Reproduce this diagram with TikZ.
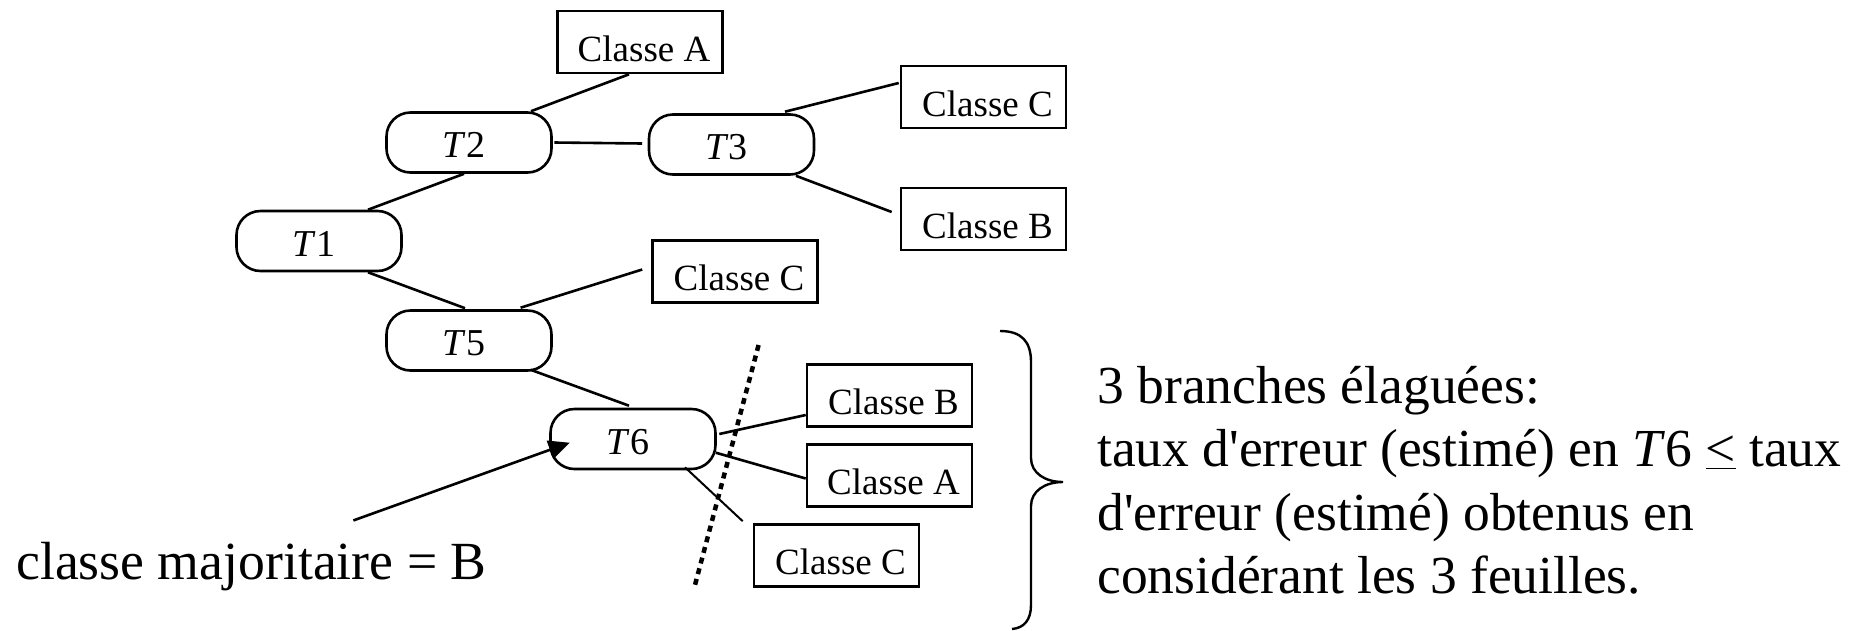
\documentclass[tikz,border=0pt]{standalone}
\usepackage{fontspec}
\setmainfont{Liberation Serif}
\usetikzlibrary{arrows.meta,calc}

\begin{document}
\begin{tikzpicture}[x=1pt,y=-1pt,
  line width=2.6pt,
  test/.style={draw, rounded corners=24pt, minimum width=165pt,
    inner xsep=0pt, inner ysep=0pt, text height=45pt, text depth=15pt,
    font=\fontsize{38}{44}\selectfont,
    execute at end node={\hspace*{10pt}}},
  leaf/.style={draw, minimum width=165pt, inner xsep=0pt, inner ysep=0pt,
    text height=50pt, text depth=12pt,
    font=\fontsize{37}{44}\selectfont,
    execute at begin node={\hspace*{8pt}}},
  branch/.style={line width=2.6pt},
]
\useasboundingbox (0,0) rectangle (1856,630);

% internal tests of the tree
\node[test] (T1) at (319,241)   {\textit{T}1};
\node[test] (T2) at (469,142.5) {\textit{T}2};
\node[test] (T3) at (731.5,144.5) {\textit{T}3};
\node[test] (T5) at (469,340.5) {\textit{T}5};
\node[test] (T6) at (633,439)   {\textit{T}6};

% leaves
\node[leaf] (CA1) at (640,42)      {Classe A};
\node[leaf] (CC1) at (983.5,97)    {Classe C};
\node[leaf] (CB1) at (983.5,219)   {Classe B};
\node[leaf] (CC2) at (735,271.5)   {Classe C};
\node[leaf] (CB2) at (889.5,395.5) {Classe B};
\node[leaf] (CA2) at (889.5,475.5) {Classe A};
\node[leaf] (CC3) at (836.5,555.5) {Classe C};

% branches
\draw[branch] ($(T1.north)+(49,0)$) -- ($(T2.south)+(-5,0)$);
\draw[branch] ($(T1.south)+(49,0)$) -- ($(T5.north)+(-4,-1)$);
\draw[branch] ($(T2.north)+(62,0)$) -- ($(CA1.south)+(-11,0)$);
\draw[branch] ($(T2.east)+(1.5,0)$) -- ($(T3.west)+(-5.5,-1)$);
\draw[branch] ($(T3.north)+(53.5,-1.5)$) -- ($(CC1.west)+(-1,-14)$);
\draw[branch] ($(T3.south)+(64.5,0)$) -- ($(CB1.west)+(-8,-7)$);
\draw[branch] ($(T5.north)+(51.6,-1.5)$) -- ($(CC2.west)+(-9,-2)$);
\draw[branch] ($(T5.south)+(61.7,-2)$) -- ($(T6.north)+(-4,-2)$);
\draw[branch] ($(T6.east)+(2.5,-5)$) -- ($(CB2.west)+(0,19.5)$);
\draw[branch] ($(T6.east)+(-1,13.7)$) -- ($(CA2.west)+(0,3)$);
\draw[branch, line width=2pt] ($(T6.south)+(52,-3)$) -- ($(CC3.north west)+(-10,-2)$);

% pruning cut
\coordinate (cutA) at (758.6,345);
\coordinate (cutB) at (695,585);
\draw[line width=4.5pt, dash pattern=on 6pt off 5pt] (cutA) -- (cutB);

% majority class label
\node[anchor=base west, inner sep=0pt, font=\fontsize{53.7}{64}\selectfont]
  (maj) at (15,579) {classe majoritaire = B};
\draw[-{Triangle[length=21pt,width=19pt]}]
  ($(maj.north)+(102,-20)$) -- ($(T6.west)+(20.5,3.7)$);

% brace
\draw[line width=2.4pt]
  (1000,331) .. controls (1022,331) and (1031,342) .. (1031,362)
  -- (1031,458) .. controls (1031,473) and (1045,482) .. (1063,482)
  .. controls (1045,482) and (1031,491) .. (1031,506)
  -- (1031,605) .. controls (1031,620) and (1024,628) .. (1012,629);

% explanation (base anchor sits on the last line)
\node[anchor=base west, inner sep=0pt, align=left,
  font=\fontsize{53.5}{63.4}\selectfont] (note) at (1096,593.5)
  {3 branches élaguées:\\
   taux d\textquotesingle erreur (estimé) en \textit{T}6 \underline{<} taux\\
   d\textquotesingle erreur (estimé) obtenus en\\
   considérant les 3 feuilles.};
\end{tikzpicture}
\end{document}
